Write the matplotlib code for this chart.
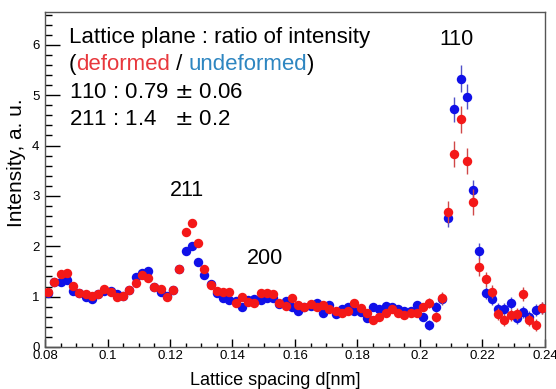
import matplotlib
matplotlib.use('Agg')
import matplotlib.pyplot as plt
from matplotlib.ticker import MultipleLocator
from matplotlib.transforms import offset_copy

plt.rcParams['font.family'] = ['Liberation Sans', 'DejaVu Sans']

### --- data --- ###
d_nm = [0.079, 0.081, 0.083, 0.085, 0.087, 0.089, 0.091, 0.093, 0.095, 0.097,
        0.099, 0.101, 0.103, 0.105, 0.107, 0.109, 0.111, 0.113, 0.115, 0.117,
        0.119, 0.121, 0.123, 0.125, 0.127, 0.129, 0.131, 0.133, 0.135, 0.137,
        0.139, 0.141, 0.143, 0.145, 0.147, 0.149, 0.151, 0.153, 0.155, 0.157,
        0.159, 0.161, 0.163, 0.165, 0.167, 0.169, 0.171, 0.173, 0.175, 0.177,
        0.179, 0.181, 0.183, 0.185, 0.187, 0.189, 0.191, 0.193, 0.195, 0.197,
        0.199, 0.201, 0.203, 0.205, 0.207, 0.209, 0.211, 0.213, 0.215, 0.217,
        0.219, 0.221, 0.223, 0.225, 0.227, 0.229, 0.231, 0.233, 0.235, 0.237,
        0.239]

deformed = [1.09, 1.10, 1.30, 1.45, 1.47, 1.22, 1.08, 1.06, 1.02, 1.05,
            1.15, 1.10, 1.00, 1.02, 1.13, 1.28, 1.42, 1.37, 1.19, 1.15,
            1.00, 1.13, 1.55, 2.28, 2.47, 2.07, 1.55, 1.23, 1.12, 1.10,
            1.10, 0.88, 1.00, 0.90, 0.87, 1.07, 1.08, 1.05, 0.87, 0.82,
            0.98, 0.83, 0.80, 0.85, 0.80, 0.83, 0.75, 0.72, 0.67, 0.72,
            0.87, 0.78, 0.68, 0.54, 0.60, 0.68, 0.75, 0.68, 0.63, 0.68,
            0.68, 0.80, 0.88, 0.60, 0.98, 2.68, 3.83, 4.52, 3.70, 2.88,
            1.59, 1.34, 1.10, 0.65, 0.54, 0.63, 0.65, 1.05, 0.54, 0.44,
            0.77]
deformed_err = [0.05] * 60 + [0.08, 0.08, 0.10, 0.10, 0.12,
                              0.22, 0.26, 0.27, 0.26, 0.26,
                              0.18, 0.15, 0.13, 0.12, 0.12,
                              0.12, 0.12, 0.14, 0.12, 0.12, 0.12]

undeformed = [1.10, 1.08, 1.30, 1.30, 1.33, 1.12, 1.08, 1.00, 0.96, 1.06,
              1.12, 1.12, 1.06, 1.02, 1.13, 1.39, 1.47, 1.51, 1.19, 1.10,
              1.02, 1.13, 1.55, 1.91, 2.00, 1.69, 1.43, 1.25, 1.08, 0.97,
              0.93, 0.92, 0.80, 0.93, 0.95, 0.93, 0.98, 0.97, 0.85, 0.92,
              0.80, 0.72, 0.80, 0.82, 0.87, 0.67, 0.83, 0.65, 0.75, 0.80,
              0.72, 0.70, 0.58, 0.80, 0.75, 0.81, 0.80, 0.75, 0.72, 0.72,
              0.83, 0.60, 0.44, 0.80, 0.95, 2.56, 4.72, 5.33, 4.97, 3.12,
              1.90, 1.08, 0.95, 0.75, 0.75, 0.87, 0.58, 0.70, 0.60, 0.73,
              0.77]
undeformed_err = [0.05] * 60 + [0.08, 0.08, 0.10, 0.10, 0.12,
                                0.17, 0.25, 0.26, 0.25, 0.20,
                                0.16, 0.12, 0.12, 0.12, 0.12,
                                0.12, 0.12, 0.12, 0.12, 0.12, 0.12]

peak_labels = ['110', '211', '200']
peak_pos = [(0.2118, 6.1), (0.1255, 3.1), (0.1505, 1.75)]

### --- figure --- ###
fig = plt.figure(figsize=(5.56, 3.89), dpi=100)
ax = fig.add_axes([0.081, 0.108, 0.899, 0.861])

ax.errorbar(d_nm, undeformed, yerr=undeformed_err, fmt='o', ms=6.8, mew=0,
            color='#1010e8', ecolor='#5050c8', elinewidth=1, capsize=2, zorder=2)
ax.errorbar(d_nm, deformed, yerr=deformed_err, fmt='o', ms=6.8, mew=0,
            color='#f41818', ecolor='#d04848', elinewidth=1, capsize=2, zorder=3)

ax.set_xlim(0.08, 0.24)
ax.set_ylim(0, 6.65)
ax.xaxis.set_minor_locator(MultipleLocator(0.005))
ax.yaxis.set_major_locator(MultipleLocator(1))
ax.yaxis.set_minor_locator(MultipleLocator(0.2))
ax.set_xticks([0.08, 0.1, 0.12, 0.14, 0.16, 0.18, 0.2, 0.22, 0.24])
ax.set_xticklabels(['0.08', '0.1', '0.12', '0.14', '0.16', '0.18', '0.2', '0.22', '0.24'])
ax.tick_params(axis='x', which='major', direction='in', length=6, width=1, labelsize=9.5, pad=2)
ax.tick_params(axis='x', which='minor', direction='in', length=3, width=1)
ax.tick_params(axis='y', which='major', direction='in', length=11, width=1, labelsize=9.5, pad=4)
ax.tick_params(axis='y', which='minor', direction='in', length=5, width=1)
for s in ax.spines.values():
    s.set_color('#555555')
    s.set_linewidth(1)

ax.set_xlabel('Lattice spacing d[nm]', fontsize=13)
ax.set_ylabel('Intensity, a. u.', fontsize=15)
ax.xaxis.set_label_coords(0.46, -0.075)
ax.yaxis.set_label_coords(-0.038, 0.55)

for lab, (px, py) in zip(peak_labels, peak_pos):
    ax.text(px, py, lab, fontsize=15.5, ha='center', va='center')

# text block in the upper left, baselines
fs = 16
tx = 0.047
rows = [0.907, 0.826, 0.743, 0.663]
ax.text(tx, rows[0], 'Lattice plane : ratio of intensity', transform=ax.transAxes, fontsize=fs)
pieces = [('(', 'black'), ('deformed', '#e8383d'), (' / ', 'black'),
          ('undeformed', '#2e86c1'), (')', 'black')]
fig.canvas.draw()
renderer = fig.canvas.get_renderer()
dx = 0
for txt, col in pieces:
    t = ax.text(tx, rows[1], txt, fontsize=fs, color=col,
                transform=offset_copy(ax.transAxes, fig=fig, x=dx, units='dots'))
    dx += t.get_window_extent(renderer).width
ax.text(tx, rows[2], '110 : 0.79 $\\pm$ 0.06', transform=ax.transAxes, fontsize=fs)
ax.text(tx, rows[3], '211 : 1.4   $\\pm$ 0.2', transform=ax.transAxes, fontsize=fs)

plt.savefig('out.png', dpi=100)
plt.close()
